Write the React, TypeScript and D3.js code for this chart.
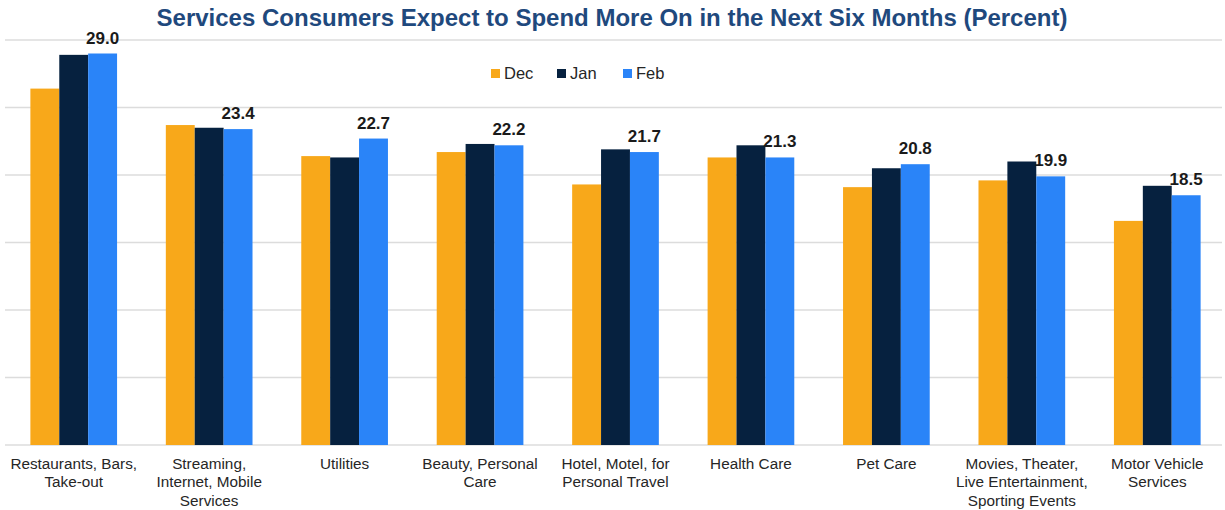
import { useEffect, useRef } from 'react'
import * as d3 from 'd3'

const categories = [
    ['Restaurants, Bars,', 'Take-out'],
    ['Streaming,', 'Internet, Mobile', 'Services'],
    ['Utilities'],
    ['Beauty, Personal', 'Care'],
    ['Hotel, Motel, for', 'Personal Travel'],
    ['Health Care'],
    ['Pet Care'],
    ['Movies, Theater,', 'Live Entertainment,', 'Sporting Events'],
    ['Motor Vehicle', 'Services'],
]
const seriesNames = ['Dec', 'Jan', 'Feb']
const decValues = [26.4, 23.7, 21.4, 21.7, 19.3, 21.3, 19.1, 19.6, 16.6]
const janValues = [28.9, 23.5, 21.3, 22.3, 21.9, 22.2, 20.5, 21.0, 19.2]
const febValues = [29.0, 23.4, 22.7, 22.2, 21.7, 21.3, 20.8, 19.9, 18.5]
const gridTicks = [0, 5, 10, 15, 20, 25, 30]

const colors: Record<string, string> = { Dec: '#F8A81A', Jan: '#06213F', Feb: '#2A84F8' }
const FONT = 'Liberation Sans, Arial, sans-serif'

export default function App() {
    const svgRef = useRef<SVGSVGElement>(null)

    useEffect(() => {
        if (!svgRef.current) return
        const svg = d3.select(svgRef.current)
        svg.selectAll('*').remove()

        const width = 1225
        const height = 510
        svg.attr('width', width).attr('height', height)

        const keys = categories.map(c => c.join(' '))
        const values: Record<string, number[]> = { Dec: decValues, Jan: janValues, Feb: febValues }

        const x0 = d3.scaleBand()
            .domain(keys)
            .range([6, 1225])
            .paddingInner(0.36)
            .paddingOuter(0.18)

        const x1 = d3.scaleBand()
            .domain(seriesNames)
            .range([0, x0.bandwidth()])

        const y = d3.scaleLinear()
            .domain([0, 30])
            .range([445, 40])

        // Gridlines
        svg.append('g')
            .selectAll('line')
            .data(gridTicks)
            .enter()
            .append('line')
            .attr('x1', 5)
            .attr('x2', 1222)
            .attr('y1', d => y(d))
            .attr('y2', d => y(d))
            .attr('stroke', '#dcdcdc')
            .attr('stroke-width', 1.5)

        // Title
        svg.append('text')
            .attr('x', 612)
            .attr('y', 26)
            .attr('text-anchor', 'middle')
            .style('font-family', FONT)
            .style('font-size', '24px')
            .style('font-weight', 'bold')
            .style('fill', '#1F497D')
            .text('Services Consumers Expect to Spend More On in the Next Six Months (Percent)')

        // Bars
        const groups = svg.append('g')
            .selectAll('g')
            .data(keys)
            .enter()
            .append('g')
            .attr('transform', d => `translate(${x0(d)},0)`)

        groups.selectAll('rect')
            .data((_, i) => seriesNames.map(s => ({ s, v: values[s][i] })))
            .enter()
            .append('rect')
            .attr('x', d => x1(d.s)!)
            .attr('width', x1.bandwidth())
            .attr('y', d => y(d.v))
            .attr('height', d => y(0) - y(d.v))
            .attr('fill', d => colors[d.s])

        // Feb value labels
        groups.append('text')
            .attr('x', x1('Feb')! + x1.bandwidth() / 2)
            .attr('y', (_, i) => y(febValues[i]) - 10)
            .attr('text-anchor', 'middle')
            .style('font-family', FONT)
            .style('font-size', '17px')
            .style('font-weight', 'bold')
            .style('fill', '#1a1a1a')
            .text((_, i) => febValues[i].toFixed(1))

        // Category labels
        const labels = groups.append('text')
            .attr('text-anchor', 'middle')
            .style('font-family', FONT)
            .style('font-size', '15.3px')
            .style('fill', '#262626')

        labels.selectAll('tspan')
            .data((_, i) => categories[i])
            .enter()
            .append('tspan')
            .attr('x', x0.bandwidth() / 2)
            .attr('y', (_, j) => 468.5 + j * 18.5)
            .text(d => d)

        // Legend
        const legend = svg.append('g')
        const legendX = d3.scalePoint().domain(seriesNames).range([491, 623])
        seriesNames.forEach(s => {
            const lx = legendX(s)!
            legend.append('rect')
                .attr('x', lx)
                .attr('y', 69)
                .attr('width', 9)
                .attr('height', 9)
                .attr('fill', colors[s])
            legend.append('text')
                .attr('x', lx + 13)
                .attr('y', 79)
                .style('font-family', FONT)
                .style('font-size', '16.5px')
                .style('fill', '#262626')
                .text(s)
        })
    }, [])

    return (
        <div style={{ position: 'absolute', left: 0, top: 0, background: '#fff' }}>
            <svg ref={svgRef}></svg>
        </div>
    )
}
